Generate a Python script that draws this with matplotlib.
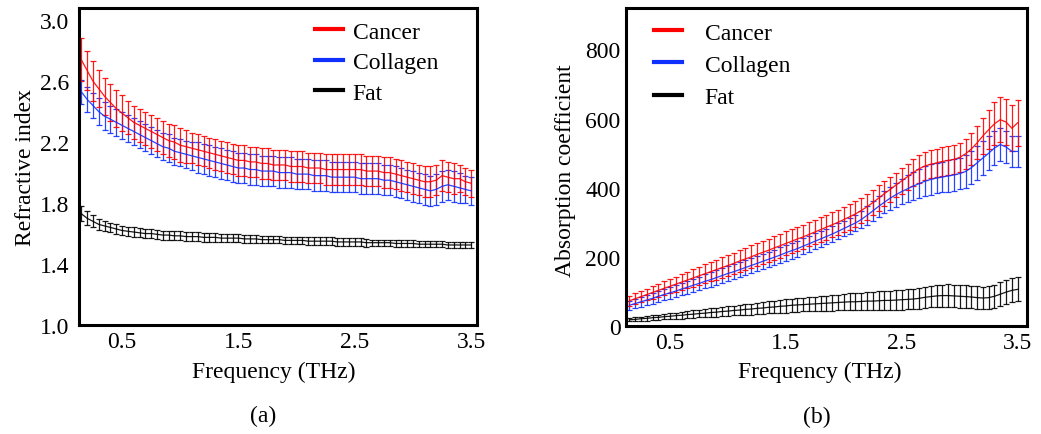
import matplotlib
matplotlib.use("Agg")
import matplotlib.pyplot as plt
from matplotlib.lines import Line2D
import numpy as np

plt.rcParams['font.family'] = ['Liberation Serif', 'DejaVu Serif']

freq = [0.15, 0.20, 0.25, 0.30, 0.35, 0.40, 0.45, 0.50, 0.55, 0.60,
        0.65, 0.70, 0.75, 0.80, 0.85, 0.90, 0.95, 1.00, 1.05, 1.10,
        1.15, 1.20, 1.25, 1.30, 1.35, 1.40, 1.45, 1.50, 1.55, 1.60,
        1.65, 1.70, 1.75, 1.80, 1.85, 1.90, 1.95, 2.00, 2.05, 2.10,
        2.15, 2.20, 2.25, 2.30, 2.35, 2.40, 2.45, 2.50, 2.55, 2.60,
        2.65, 2.70, 2.75, 2.80, 2.85, 2.90, 2.95, 3.00, 3.05, 3.10,
        3.15, 3.20, 3.25, 3.30, 3.35, 3.40, 3.45, 3.50]

tissues = ['Cancer', 'Collagen', 'Fat']

# (a) refractive index
n_cancer = [2.74, 2.67, 2.60, 2.55, 2.50, 2.46, 2.42, 2.39, 2.36, 2.33,
            2.31, 2.29, 2.27, 2.25, 2.23, 2.21, 2.20, 2.18, 2.17, 2.16,
            2.15, 2.14, 2.13, 2.12, 2.11, 2.10, 2.09, 2.08, 2.08, 2.07,
            2.07, 2.06, 2.06, 2.05, 2.05, 2.05, 2.04, 2.04, 2.04, 2.03,
            2.03, 2.03, 2.02, 2.02, 2.02, 2.02, 2.02, 2.02, 2.02, 2.01,
            2.01, 2.01, 2.00, 2.00, 1.99, 1.98, 1.97, 1.96, 1.95, 1.94,
            1.94, 1.95, 1.98, 1.97, 1.96, 1.96, 1.94, 1.93]
n_cancer_err = [0.14, 0.13, 0.13, 0.12, 0.12, 0.12, 0.12, 0.12, 0.11, 0.11,
                0.11, 0.11, 0.11, 0.11, 0.11, 0.11, 0.11, 0.11, 0.11, 0.10,
                0.10, 0.10, 0.10, 0.10, 0.10, 0.10, 0.10, 0.10, 0.10, 0.10,
                0.10, 0.10, 0.10, 0.10, 0.10, 0.10, 0.10, 0.10, 0.10, 0.10,
                0.10, 0.10, 0.10, 0.10, 0.10, 0.10, 0.10, 0.10, 0.10, 0.10,
                0.10, 0.10, 0.10, 0.10, 0.10, 0.10, 0.10, 0.10, 0.10, 0.10,
                0.10, 0.10, 0.10, 0.10, 0.10, 0.09, 0.09, 0.09]
n_collagen = [2.53, 2.48, 2.44, 2.40, 2.37, 2.35, 2.33, 2.31, 2.29, 2.27,
              2.25, 2.23, 2.21, 2.19, 2.17, 2.16, 2.14, 2.13, 2.12, 2.11,
              2.10, 2.09, 2.08, 2.07, 2.06, 2.05, 2.04, 2.03, 2.03, 2.02,
              2.02, 2.01, 2.01, 2.01, 2.00, 2.00, 2.00, 1.99, 1.99, 1.99,
              1.98, 1.98, 1.98, 1.97, 1.97, 1.97, 1.97, 1.97, 1.96, 1.96,
              1.96, 1.96, 1.95, 1.95, 1.94, 1.93, 1.92, 1.91, 1.90, 1.89,
              1.88, 1.89, 1.91, 1.92, 1.91, 1.90, 1.89, 1.88]
n_collagen_err = [0.08, 0.08, 0.08, 0.09, 0.09, 0.09, 0.09, 0.09, 0.09, 0.09,
                  0.09, 0.09, 0.09, 0.09, 0.09, 0.09, 0.09, 0.09, 0.09, 0.09,
                  0.10, 0.10, 0.10, 0.10, 0.10, 0.10, 0.10, 0.10, 0.10, 0.10,
                  0.10, 0.10, 0.10, 0.10, 0.10, 0.10, 0.10, 0.10, 0.10, 0.10,
                  0.10, 0.10, 0.10, 0.10, 0.10, 0.10, 0.10, 0.10, 0.10, 0.10,
                  0.10, 0.10, 0.10, 0.10, 0.10, 0.10, 0.10, 0.10, 0.10, 0.10,
                  0.10, 0.10, 0.10, 0.10, 0.10, 0.10, 0.09, 0.09]
n_fat = [1.73, 1.70, 1.68, 1.66, 1.65, 1.64, 1.63, 1.62, 1.615, 1.61,
         1.605, 1.60, 1.60, 1.595, 1.59, 1.59, 1.585, 1.585, 1.58, 1.58,
         1.58, 1.575, 1.575, 1.575, 1.57, 1.57, 1.57, 1.57, 1.565, 1.565,
         1.565, 1.56, 1.56, 1.56, 1.56, 1.555, 1.555, 1.555, 1.555, 1.55,
         1.55, 1.55, 1.55, 1.55, 1.545, 1.545, 1.545, 1.545, 1.545, 1.54,
         1.54, 1.54, 1.54, 1.54, 1.535, 1.535, 1.535, 1.535, 1.53, 1.53,
         1.53, 1.53, 1.53, 1.525, 1.525, 1.525, 1.525, 1.525]
n_fat_err = [0.05, 0.045, 0.04, 0.035, 0.035, 0.03, 0.03, 0.03, 0.03, 0.03,
             0.03, 0.03, 0.03, 0.03, 0.03, 0.03, 0.03, 0.03, 0.03, 0.03,
             0.028, 0.028, 0.028, 0.028, 0.028, 0.028, 0.028, 0.028, 0.028, 0.028,
             0.025, 0.025, 0.025, 0.025, 0.025, 0.025, 0.025, 0.025, 0.025, 0.025,
             0.025, 0.025, 0.025, 0.025, 0.025, 0.025, 0.025, 0.025, 0.025, 0.025,
             0.02, 0.02, 0.02, 0.02, 0.02, 0.02, 0.02, 0.02, 0.02, 0.02,
             0.02, 0.02, 0.02, 0.02, 0.02, 0.02, 0.02, 0.02]

# (b) absorption coefficient
a_cancer = [73, 79, 85, 91, 97, 103, 109, 115, 121, 127,
            133, 139, 145, 151, 157, 163, 169, 175, 181, 188,
            194, 200, 207, 213, 219, 226, 232, 239, 245, 252,
            258, 265, 272, 279, 286, 293, 300, 308, 316, 324,
            334, 345, 357, 370, 383, 395, 408, 420, 432, 444,
            455, 463, 468, 472, 476, 479, 482, 488, 498, 512,
            530, 550, 568, 585, 597, 590, 572, 588]
a_cancer_err = [14, 15, 16, 17, 18, 19, 20, 21, 22, 23,
                24, 25, 26, 27, 28, 29, 30, 30, 31, 32,
                32, 33, 33, 33, 34, 34, 34, 35, 35, 35,
                35, 35, 36, 36, 36, 36, 37, 37, 37, 37,
                37, 37, 37, 37, 36, 35, 36, 37, 38, 39,
                40, 40, 40, 41, 41, 41, 41, 42, 43, 45,
                48, 52, 57, 62, 66, 67, 66, 66]
a_collagen = [60, 65, 70, 75, 80, 86, 91, 96, 101, 107,
              112, 118, 123, 129, 134, 140, 146, 152, 157, 163,
              169, 175, 181, 187, 193, 199, 205, 212, 218, 224,
              231, 238, 245, 252, 259, 266, 274, 282, 290, 298,
              308, 320, 333, 346, 358, 370, 380, 389, 397, 405,
              412, 419, 424, 428, 431, 434, 437, 441, 447, 458,
              472, 486, 500, 515, 525, 518, 505, 505]
a_collagen_err = [13, 14, 15, 15, 16, 16, 17, 17, 18, 18,
                  19, 19, 20, 20, 21, 21, 22, 22, 22, 22,
                  22, 22, 22, 22, 22, 22, 23, 23, 23, 23,
                  23, 23, 23, 23, 23, 23, 23, 23, 23, 24,
                  25, 27, 29, 31, 32, 33, 35, 37, 39, 41,
                  42, 43, 44, 44, 44, 45, 45, 46, 47, 48,
                  49, 50, 50, 49, 47, 46, 45, 45]
a_fat = [18, 19, 21, 22, 24, 25, 27, 28, 30, 31,
         33, 34, 36, 37, 39, 40, 42, 43, 45, 46,
         48, 49, 51, 52, 54, 55, 57, 58, 60, 61,
         62, 63, 64, 65, 66, 67, 68, 69, 70, 70,
         71, 72, 72, 73, 74, 74, 75, 76, 77, 78,
         80, 83, 85, 87, 88, 88, 87, 86, 85, 84,
         82, 81, 82, 86, 92, 98, 103, 106]
a_fat_err = [5, 6, 6, 7, 7, 8, 8, 9, 9, 10,
             10, 11, 11, 12, 12, 13, 13, 14, 14, 15,
             15, 16, 16, 17, 17, 18, 18, 19, 19, 20,
             20, 21, 21, 22, 22, 23, 23, 24, 24, 25,
             25, 26, 26, 27, 27, 28, 28, 29, 29, 30,
             30, 31, 31, 32, 32, 33, 33, 33, 33, 33,
             33, 33, 34, 34, 35, 35, 35, 35]

colors = {'Cancer': '#ff0000', 'Collagen': '#1030ff', 'Fat': '#000000'}
FS = 17


def draw_series(ax, y, err, color):
    rgba = matplotlib.colors.to_rgba(color, 0.45)
    ax.errorbar(freq, y, yerr=err, fmt='-', color=color, lw=0.9, alpha=0.9,
                ecolor=rgba, elinewidth=0.9, capsize=2.0, capthick=0.9)


def style_axes(ax):
    for sp in ax.spines.values():
        sp.set_linewidth(2.2)
    ax.tick_params(length=0, labelsize=FS)
    ax.set_xticks([0.5, 1.5, 2.5, 3.5])
    ax.set_xticklabels(['0.5', '1.5', '2.5', '3.5'])


fig = plt.figure(figsize=(10.41, 4.35), dpi=100)
ax1 = fig.add_axes([0.0759, 0.2506, 0.3823, 0.7287])
ax2 = fig.add_axes([0.6013, 0.2483, 0.3852, 0.731])

draw_series(ax1, n_fat, n_fat_err, colors['Fat'])
draw_series(ax1, n_collagen, n_collagen_err, colors['Collagen'])
draw_series(ax1, n_cancer, n_cancer_err, colors['Cancer'])
ax1.set_xlim(0.13, 3.55)
ax1.set_ylim(1.0, 3.08)
ax1.set_yticks([1.0, 1.4, 1.8, 2.2, 2.6, 3.0])
ax1.set_yticklabels(['1.0', '1.4', '1.8', '2.2', '2.6', '3.0'])
style_axes(ax1)
ax1.tick_params(axis='y', pad=7)
ax1.tick_params(axis='x', pad=4)
ax1.set_ylabel('Refractive index', fontsize=FS)
ax1.yaxis.set_label_coords(-0.108, 0.5)
ax1.set_xlabel('Frequency (THz)', fontsize=FS)
ax1.xaxis.set_label_coords(0.49, -0.112)

draw_series(ax2, a_fat, a_fat_err, colors['Fat'])
draw_series(ax2, a_collagen, a_collagen_err, colors['Collagen'])
draw_series(ax2, a_cancer, a_cancer_err, colors['Cancer'])
ax2.set_xlim(0.12, 3.58)
ax2.set_ylim(0, 920)
ax2.set_yticks([0, 200, 400, 600, 800])
style_axes(ax2)
ax2.tick_params(axis='y', pad=4)
ax2.tick_params(axis='x', pad=4)
ax2.set_ylabel('Absorption coefficient', fontsize=FS)
ax2.yaxis.set_label_coords(-0.125, 0.49)
ax2.set_xlabel('Frequency (THz)', fontsize=FS)
ax2.xaxis.set_label_coords(0.484, -0.11)

handles = [Line2D([], [], color=colors[t], lw=3) for t in tissues]
fig.legend(handles, tissues, loc='upper left', bbox_to_anchor=(315 / 1041, 1 - 22 / 435),
           frameon=False, fontsize=FS, handlelength=1.2, handletextpad=0.4,
           labelspacing=0.38, borderpad=0, borderaxespad=0)
fig.legend(handles, tissues, loc='upper left', bbox_to_anchor=(654 / 1041, 1 - 23 / 435),
           frameon=False, fontsize=FS, handlelength=1.2, handletextpad=0.95,
           labelspacing=0.45, borderpad=0, borderaxespad=0)

fig.text(263 / 1041, 1 - 416 / 435, '(a)', fontsize=FS, ha='center', va='center')
fig.text(817 / 1041, 1 - 417 / 435, '(b)', fontsize=FS, ha='center', va='center')

fig.savefig('out.png', dpi=100)
